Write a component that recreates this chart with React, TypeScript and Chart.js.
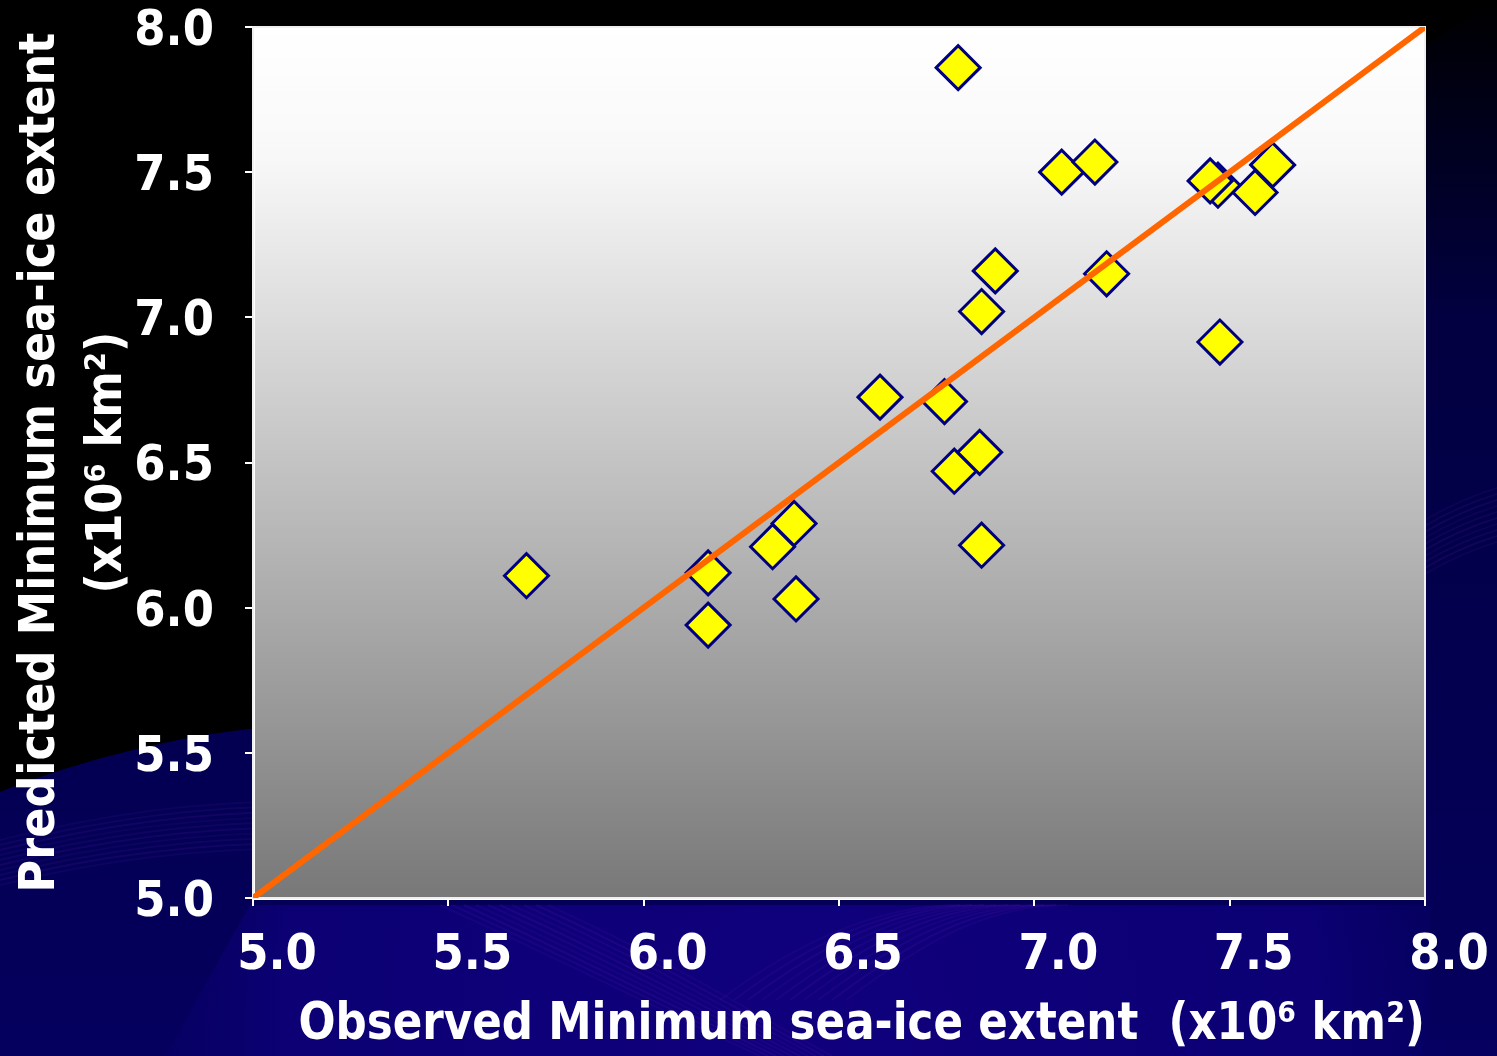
import React, { useEffect, useRef } from "react";
import { Chart, registerables } from "chart.js";

Chart.register(...registerables);

const observed = [5.70, 6.165, 6.165, 6.33, 6.385, 6.39, 6.605, 6.77, 6.795, 6.86, 6.865, 6.865, 6.90, 6.805, 7.07, 7.155, 7.185, 7.47, 7.45, 7.565, 7.61, 7.475];
const predicted = [6.11, 6.12, 5.94, 6.21, 6.29, 6.03, 6.725, 6.71, 6.47, 6.535, 6.215, 7.02, 7.16, 7.86, 7.50, 7.535, 7.15, 7.455, 7.47, 7.43, 7.525, 6.915];
const fitLineX = [5.0, 8.0];
const fitLineY = [5.0, 8.0];
const tickValues = [5.0, 5.5, 6.0, 6.5, 7.0, 7.5, 8.0];
const xTitle = "   Observed Minimum sea-ice extent  (x10\u2076 km\u00B2)";
const yTitle = ["Predicted Minimum sea-ice extent", "(x10\u2076 km\u00B2)"];

const FONT = "'DejaVu Sans Condensed', 'DejaVu Sans', sans-serif";

const backgroundPlugin = {
  id: "slideBackground",
  beforeDraw(chart: any) {
    const { ctx, width, height, chartArea } = chart;
    ctx.save();
    ctx.fillStyle = "#000000";
    ctx.fillRect(0, 0, width, height);

    // blue wave region
    const g = ctx.createLinearGradient(0, 0, 0, height);
    g.addColorStop(0, "#000000");
    g.addColorStop(0.12, "#00001c");
    g.addColorStop(0.3, "#020040");
    g.addColorStop(0.7, "#030052");
    g.addColorStop(1, "#05005e");
    ctx.beginPath();
    ctx.moveTo(0, 792);
    ctx.bezierCurveTo(80, 760, 180, 735, 260, 728);
    ctx.bezierCurveTo(700, 600, 1100, 250, width, 0);
    ctx.lineTo(width, height);
    ctx.lineTo(0, height);
    ctx.closePath();
    ctx.fillStyle = g;
    ctx.fill();

    // brighter blue under the plot
    const rg = ctx.createRadialGradient(800, 1010, 50, 800, 1010, 720);
    rg.addColorStop(0, "#10007c");
    rg.addColorStop(0.7, "#0c0074");
    rg.addColorStop(1, "rgba(8,0,100,0)");
    ctx.beginPath();
    ctx.moveTo(165, height);
    ctx.lineTo(250, 905);
    ctx.lineTo(1430, 905);
    ctx.lineTo(1430, 1040);
    ctx.lineTo(width, 1040);
    ctx.lineTo(width, height);
    ctx.closePath();
    ctx.fillStyle = rg;
    ctx.fill();

    // faint purple wave streaks
    ctx.lineWidth = 2;
    for (let i = 0; i < 10; i++) {
      ctx.strokeStyle = `rgba(110,30,190,${0.10 + 0.02 * (i % 3)})`;
      ctx.beginPath();
      ctx.moveTo(0, 840 + i * 5);
      ctx.bezierCurveTo(200, 790 + i * 5, 400, 780 + i * 6, 700, 860 + i * 4);
      ctx.stroke();
      ctx.beginPath();
      ctx.moveTo(440 + i * 12, 905);
      ctx.bezierCurveTo(560 + i * 12, 960, 640 + i * 10, 1000, 760 + i * 8, 1056);
      ctx.stroke();
      ctx.beginPath();
      ctx.moveTo(1425, 520 + i * 6);
      ctx.bezierCurveTo(1450, 505 + i * 6, 1475, 495 + i * 6, width, 488 + i * 6);
      ctx.stroke();
      ctx.beginPath();
      ctx.moveTo(720 + i * 14, 1000);
      ctx.bezierCurveTo(800 + i * 14, 940, 880 + i * 12, 905, 960 + i * 12, 905);
      ctx.stroke();
    }

    // plot area gradient
    const pg = ctx.createLinearGradient(0, chartArea.top, 0, chartArea.bottom);
    pg.addColorStop(0, "#ffffff");
    pg.addColorStop(0.15, "#f8f8f8");
    pg.addColorStop(1, "#787878");
    ctx.fillStyle = pg;
    ctx.fillRect(chartArea.left, chartArea.top, chartArea.right - chartArea.left, chartArea.bottom - chartArea.top);
    ctx.restore();
  },
  beforeDatasetsDraw(chart: any) {
    const { ctx, chartArea } = chart;
    ctx.save();
    ctx.strokeStyle = "#f0f0f0";
    ctx.lineWidth = 2;
    ctx.strokeRect(chartArea.left, chartArea.top, chartArea.right - chartArea.left, chartArea.bottom - chartArea.top);
    ctx.restore();
  },
};

export default function App() {
  const canvasRef = useRef<HTMLCanvasElement | null>(null);

  useEffect(() => {
    if (!canvasRef.current) return;
    const points = observed.map((x, i) => ({ x, y: predicted[i] }));
    const linePts = fitLineX.map((x, i) => ({ x, y: fitLineY[i] }));
    const chart = new Chart(canvasRef.current, {
      type: "scatter",
      data: {
        datasets: [
          {
            type: "line",
            data: linePts,
            borderColor: "#FF6600",
            borderWidth: 6,
            pointRadius: 0,
            fill: false,
            order: 0,
          } as any,
          {
            data: points,
            pointStyle: "rectRot",
            pointRadius: 22,
            pointHoverRadius: 22,
            pointBackgroundColor: "#FFFF00",
            pointBorderColor: "#000080",
            pointBorderWidth: 3,
            order: 1,
          },
        ],
      },
      options: {
        responsive: false,
        animation: false,
        events: [],
        layout: { padding: { top: 27, right: 72, bottom: 0, left: 0 } },
        plugins: { legend: { display: false }, tooltip: { enabled: false } },
        scales: {
          x: {
            type: "linear",
            min: 5,
            max: 8,
            afterBuildTicks: (scale: any) => {
              scale.ticks = tickValues.map((v) => ({ value: v }));
            },
            afterFit: (scale: any) => {
              scale.height = 158;
            },
            grid: { drawOnChartArea: false, drawTicks: true, tickLength: 8, color: "#ffffff", lineWidth: 2 },
            border: { display: true, color: "#ffffff", width: 3 },
            ticks: {
              color: "#ffffff",
              font: { family: FONT, size: 50, weight: "bold", lineHeight: 1 },
              padding: 25,
              labelOffset: 24,
              maxRotation: 0,
              callback: (v: any) => Number(v).toFixed(1),
            },
            title: {
              display: true,
              text: xTitle,
              color: "#ffffff",
              font: { family: FONT, size: 51, weight: "bold", lineHeight: 1.2 },
              padding: { top: 0, bottom: 0 },
            },
          },
          y: {
            type: "linear",
            min: 5,
            max: 8,
            afterBuildTicks: (scale: any) => {
              scale.ticks = tickValues.map((v) => ({ value: v }));
            },
            afterFit: (scale: any) => {
              scale.width = 253;
              scale.paddingTop = 0;
              scale.paddingBottom = 0;
            },
            grid: { drawOnChartArea: false, drawTicks: true, tickLength: 8, color: "#ffffff", lineWidth: 2 },
            border: { display: true, color: "#ffffff", width: 3 },
            ticks: {
              color: "#ffffff",
              font: { family: FONT, size: 50, weight: "bold", lineHeight: 1 },
              padding: 31,
              labelOffset: 5,
              callback: (v: any) => Number(v).toFixed(1),
            },
            title: {
              display: true,
              text: yTitle,
              color: "#ffffff",
              font: { family: FONT, size: 49.5, weight: "bold", lineHeight: 1.36 },
              padding: { top: 7, bottom: 0 },
            },
          },
        },
      },
      plugins: [backgroundPlugin],
    });
    return () => chart.destroy();
  }, []);

  return (
    <div style={{ position: "absolute", left: 0, top: 0, width: 1497, height: 1056, background: "#000" }}>
      <canvas ref={canvasRef} width={1497} height={1056} style={{ display: "block" }} />
    </div>
  );
}
